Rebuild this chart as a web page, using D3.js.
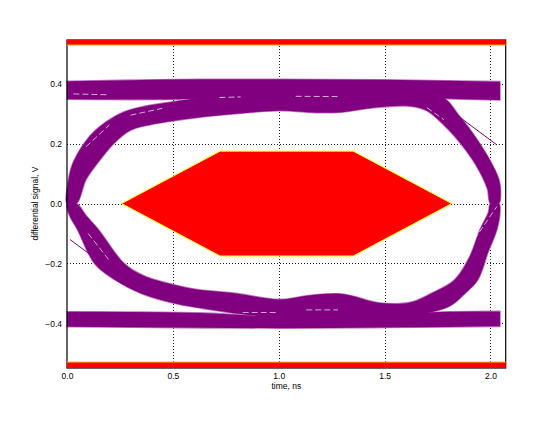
<!DOCTYPE html>
<html>
<head>
<meta charset="utf-8">
<script src="https://cdn.jsdelivr.net/npm/d3@7"></script>
<style>
  body { margin: 0; background: #fff; }
  text { font-family: "Liberation Sans", Arial, sans-serif; }
</style>
</head>
<body>
<div id="eye"></div>
<script>
// eye diagram with mask
const timeTicks = [0.0, 0.5, 1.0, 1.5, 2.0];
const voltTicks = [-0.4, -0.2, 0.0, 0.2, 0.4];
const timeRange = [0, 2.072];
const voltRange = [-0.549, 0.546];

// mask regions (time ns, volts)
const maskHex = [[0.258, 0], [0.723, 0.175], [1.352, 0.175], [1.817, 0], [1.352, -0.175], [0.723, -0.175]];
const maskTop = [0.529, 0.546];
const maskBottom = [-0.549, -0.529];

// steady "1" and "0" rails: time, low edge, high edge
const railTime = [0.0, 0.3, 0.63, 1.0, 1.5, 1.8, 2.045];
const railTopHi = [0.408, 0.412, 0.415, 0.415, 0.413, 0.410, 0.407];
const railTopLo = [0.348, 0.347, 0.350, 0.360, 0.360, 0.350, 0.346];
const railBotHi = [-0.361, -0.362, -0.365, -0.376, -0.370, -0.361, -0.360];
const railBotLo = [-0.411, -0.413, -0.415, -0.416, -0.414, -0.412, -0.410];

// transition bundles, outline of each band (outer edge then inner edge back)
const upperArc = [
  [0.0, 0.0], [0.003, 0.06], [0.025, 0.13], [0.075, 0.195], [0.135, 0.245], [0.25, 0.30],
  [0.35, 0.322], [0.5, 0.34], [0.65, 0.355], [0.9, 0.37], [1.3, 0.37], [1.6, 0.37],
  [1.78, 0.352], [1.845, 0.30], [1.905, 0.246], [1.985, 0.16], [2.04, 0.08], [2.048, 0.03], [2.04, 0.0],
  [2.0, 0.0], [1.985, 0.05], [1.93, 0.13], [1.86, 0.2], [1.78, 0.262], [1.70, 0.31],
  [1.62, 0.325], [1.45, 0.32], [1.3, 0.305], [1.2, 0.303], [1.0, 0.31], [0.8, 0.3],
  [0.65, 0.29], [0.5, 0.276], [0.4, 0.264], [0.3, 0.245], [0.22, 0.2], [0.15, 0.14],
  [0.09, 0.08], [0.045, 0.0]
];
const lowerArc = [
  [0.0, 0.0], [0.012, -0.04], [0.05, -0.088], [0.13, -0.2], [0.227, -0.255], [0.35, -0.3],
  [0.5, -0.332], [0.63, -0.349], [0.9, -0.375], [1.3, -0.38], [1.6, -0.375], [1.8, -0.345],
  [1.88, -0.3], [1.94, -0.255], [1.99, -0.16], [2.03, -0.088], [2.045, -0.03], [2.04, 0.0],
  [2.0, 0.0], [1.99, -0.03], [1.95, -0.088], [1.9, -0.18], [1.83, -0.255], [1.72, -0.3],
  [1.62, -0.33], [1.48, -0.332], [1.3, -0.302], [1.15, -0.306], [1.0, -0.32], [0.8, -0.3],
  [0.6, -0.285], [0.5, -0.27], [0.36, -0.24], [0.27, -0.2], [0.15, -0.088], [0.09, -0.04],
  [0.045, 0.0]
];
// single stray traces
const strayTraces = [
  [[1.84, 0.296], [2.03, 0.196]],
  [[0.014, -0.12], [0.227, -0.232]]
];
// thin white gaps between overlaid traces
const gapStreaks = [
  [[0.03, 0.366], [0.2, 0.363]],
  [[0.72, 0.354], [0.82, 0.356]],
  [[1.08, 0.358], [1.29, 0.357]],
  [[0.09, 0.19], [0.2, 0.262]],
  [[0.3, 0.295], [0.45, 0.318]],
  [[1.70, 0.32], [1.78, 0.28]],
  [[0.83, -0.364], [1.0, -0.364]],
  [[1.13, -0.355], [1.28, -0.355]],
  [[1.9, -0.145], [2.03, -0.01]],
  [[0.1, -0.1], [0.2, -0.19]]
];

const width = 560, height = 421;
const margin = {top: 40, right: 54.3, bottom: 53, left: 67};

let svg = d3.select("#eye").append("svg")
    .attr("width", width)
    .attr("height", height);

let x = d3.scaleLinear().domain(timeRange).range([margin.left, width - margin.right]);
let y = d3.scaleLinear().domain(voltRange).range([height - margin.bottom, margin.top]);

// dotted grid
let grid = svg.append("g").attr("class", "grid")
    .attr("stroke", "#222").attr("stroke-width", 1).attr("stroke-dasharray", "1,2");
grid.selectAll("line.v").data(timeTicks.filter(d => d > 0)).enter().append("line")
    .attr("x1", d => Math.round(x(d)) + 0.5).attr("x2", d => Math.round(x(d)) + 0.5)
    .attr("y1", y(voltRange[1])).attr("y2", y(voltRange[0]));
grid.selectAll("line.h").data(voltTicks).enter().append("line")
    .attr("y1", d => Math.round(y(d)) + 0.5).attr("y2", d => Math.round(y(d)) + 0.5)
    .attr("x1", x(timeRange[0])).attr("x2", x(timeRange[1]));

// traces
const purple = "#800080";
let railArea = (hi, lo) => d3.area()
    .x((d, i) => x(railTime[i]))
    .y0((d, i) => y(lo[i]))
    .y1((d, i) => y(hi[i]))
    .curve(d3.curveMonotoneX)(railTime);

let bandLine = d3.line()
    .x(d => x(d[0])).y(d => y(d[1]))
    .curve(d3.curveCatmullRomClosed.alpha(0.5));

let bandPaths = [
    railArea(railTopHi, railTopLo),
    railArea(railBotHi, railBotLo),
    bandLine(upperArc),
    bandLine(lowerArc)
];

// light fringe underneath, solid fill on top
svg.append("g").selectAll("path").data(bandPaths).enter().append("path")
    .attr("d", d => d)
    .attr("fill", "none")
    .attr("stroke", "#c080c0")
    .attr("stroke-width", 1.6);
svg.append("g").selectAll("path").data(bandPaths).enter().append("path")
    .attr("d", d => d)
    .attr("fill", purple);

svg.append("g").selectAll("line").data(gapStreaks).enter().append("line")
    .attr("x1", d => x(d[0][0])).attr("y1", d => y(d[0][1]))
    .attr("x2", d => x(d[1][0])).attr("y2", d => y(d[1][1]))
    .attr("stroke", "#fff").attr("stroke-width", 0.8).attr("stroke-dasharray", "6,3")
    .attr("opacity", 0.85);

svg.append("g").selectAll("line").data(strayTraces).enter().append("line")
    .attr("x1", d => x(d[0][0])).attr("y1", d => y(d[0][1]))
    .attr("x2", d => x(d[1][0])).attr("y2", d => y(d[1][1]))
    .attr("stroke", purple).attr("stroke-width", 1);

// mask
svg.append("polygon")
    .attr("points", maskHex.map(d => [x(d[0]), y(d[1])].join(",")).join(" "))
    .attr("fill", "#ff0000")
    .attr("stroke", "#ffff00")
    .attr("stroke-width", 1);

// frame
svg.append("rect")
    .attr("x", x(timeRange[0])).attr("y", y(voltRange[1]))
    .attr("width", x(timeRange[1]) - x(timeRange[0]))
    .attr("height", y(voltRange[0]) - y(voltRange[1]))
    .attr("fill", "none").attr("stroke", "#000").attr("stroke-width", 1.2);

[maskTop, maskBottom].forEach((m, i) => {
    svg.append("rect")
        .attr("x", x(timeRange[0])).attr("y", y(m[1]))
        .attr("width", x(timeRange[1]) - x(timeRange[0]))
        .attr("height", y(m[0]) - y(m[1]))
        .attr("fill", "#ff0000");
    let edge = i === 0 ? m[0] : m[1];
    svg.append("line")
        .attr("x1", x(timeRange[0])).attr("x2", x(timeRange[1]))
        .attr("y1", y(edge)).attr("y2", y(edge))
        .attr("stroke", "#e8d000").attr("stroke-width", 1);
});

// axes
let xAxis = svg.append("g")
    .attr("transform", `translate(0,${y(voltRange[0])})`)
    .call(d3.axisBottom(x).tickValues(timeTicks).tickFormat(d3.format(".1f")).tickSize(0).tickPadding(5));
let yAxis = svg.append("g")
    .attr("transform", `translate(${x(timeRange[0])},0)`)
    .call(d3.axisLeft(y).tickValues(voltTicks).tickFormat(d3.format(".1f")).tickSize(0).tickPadding(5));
[xAxis, yAxis].forEach(a => {
    a.select(".domain").remove();
    a.selectAll("text").attr("font-size", 8.5).attr("fill", "#000")
        .attr("font-family", "Liberation Sans, Arial, sans-serif");
});

svg.append("text")
    .attr("x", (x(timeRange[0]) + x(timeRange[1])) / 2)
    .attr("y", 389)
    .attr("text-anchor", "middle")
    .attr("font-size", 8.5)
    .text("time, ns");

svg.append("text")
    .attr("transform", `translate(38,${y(0)}) rotate(-90)`)
    .attr("text-anchor", "middle")
    .attr("font-size", 8.5)
    .text("differential signal, V");
</script>
</body>
</html>
